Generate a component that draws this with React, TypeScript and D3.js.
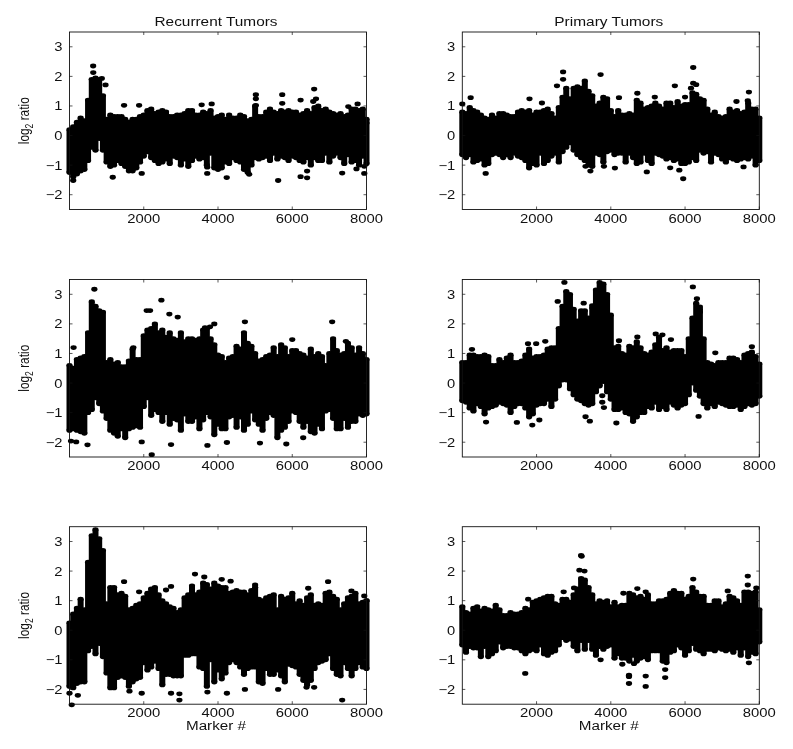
import React from "react";
import * as d3 from "d3";

const markerBins = d3.range(0, 8001, 100);
const xTickValues = [2000, 4000, 6000, 8000];
const yTickValues = [-2, -1, 0, 1, 2, 3];
const columnTitles = ["Recurrent Tumors", "Primary Tumors"];
const xAxisLabel = "Marker #";

type Pt = [number, number];

const r1Upper = [0.2,0.3,0.45,0.6,0.5,1.2,1.9,1.95,1.9,1.35,0.55,0.7,0.65,0.65,0.65,0.55,0.45,0.55,0.55,0.65,0.7,0.85,0.9,0.75,0.8,0.85,0.8,0.65,0.65,0.7,0.7,0.75,0.85,0.85,0.7,0.7,0.8,0.75,0.85,0.6,0.65,0.7,0.55,0.7,0.6,0.6,0.7,0.65,0.5,0.55,1.0,0.65,0.65,0.8,0.9,0.8,0.75,0.85,0.8,0.85,0.8,0.8,0.7,0.75,0.85,0.75,0.95,1.0,0.85,0.9,0.8,0.75,0.7,0.75,0.65,0.7,0.9,0.9,0.85,0.9,0.55];
const r1Lower = [-1.25,-1.4,-1.3,-1.2,-1.15,-0.85,-0.4,-0.5,-0.1,-0.5,-0.9,-1.05,-1.0,-0.85,-0.95,-1.05,-1.2,-1.2,-1.1,-0.9,-0.7,-0.55,-0.75,-0.85,-0.95,-0.9,-0.8,-0.95,-0.7,-0.75,-1.0,-0.8,-1.05,-0.85,-0.7,-0.8,-0.75,-1.0,-0.6,-1.1,-1.15,-1.1,-0.9,-0.95,-0.75,-0.85,-0.9,-1.15,-1.25,-1.0,-0.75,-0.8,-0.75,-0.7,-0.85,-0.6,-0.8,-0.7,-0.75,-0.85,-0.7,-0.75,-0.85,-0.9,-0.75,-1.0,-0.75,-0.85,-0.85,-0.6,-0.9,-0.7,-0.6,-0.75,-0.95,-0.65,-0.9,-0.85,-1.0,-0.7,-0.95];
const r1Points: Pt[] = [[637,2.35],[640,2.13],[870,1.93],[970,1.71],[1470,1.02],[1875,1.02],[1165,-1.41],[1945,-1.28],[3710,-1.28],[3710,-1.07],[3560,1.04],[3830,1.07],[4235,-1.42],[5020,1.38],[5020,1.24],[5020,1.02],[5730,1.38],[5730,1.09],[5620,-1.52],[6225,1.2],[6590,1.57],[6640,1.24],[6565,1.15],[6225,-1.39],[6400,-1.2],[6400,-1.43],[7345,-1.27],[7760,1.07],[7510,0.98],[7940,-1.28],[7940,-1.04],[8000,0.42],[7730,-1.13],[100,-1.52],[4840,-1.31]];

const p1Upper = [0.8,0.75,0.95,0.85,0.8,0.7,0.6,0.55,0.7,0.6,0.75,0.75,0.7,0.65,0.65,0.8,0.85,0.8,0.85,0.7,0.8,0.8,0.85,0.9,0.75,0.6,0.95,1.3,1.6,1.25,1.6,1.65,1.6,1.85,1.5,1.35,1.0,1.1,1.3,1.25,0.85,0.65,0.85,0.7,0.7,0.75,0.7,1.2,1.1,0.9,0.95,1.0,1.1,1.0,0.9,1.1,1.1,0.95,1.15,1.0,1.05,1.05,1.45,1.4,1.25,1.2,0.9,0.7,0.8,0.65,0.6,0.65,0.9,0.8,0.85,0.75,0.8,1.1,0.9,0.9,0.6];
const p1Lower = [-0.65,-0.75,-0.65,-0.9,-0.85,-0.8,-1.0,-0.95,-0.65,-0.6,-0.65,-0.75,-0.65,-0.75,-0.6,-0.7,-0.75,-0.85,-1.1,-0.95,-1.0,-0.6,-0.95,-0.85,-0.7,-0.6,-0.9,-0.55,-0.4,-0.25,-0.5,-0.65,-0.75,-0.85,-1.0,-1.05,-0.6,-0.65,-0.9,-0.55,-0.5,-0.65,-0.6,-0.6,-0.9,-0.6,-0.75,-0.95,-0.9,-0.6,-0.85,-0.95,-0.6,-0.65,-0.7,-0.8,-0.75,-0.85,-0.8,-0.95,-0.95,-0.9,-0.75,-0.85,-0.5,-0.6,-0.55,-0.9,-0.6,-0.65,-0.8,-0.9,-0.75,-0.8,-0.85,-0.8,-0.75,-0.8,-0.7,-1.0,-0.85];
const p1Points: Pt[] = [[0,1.07],[225,1.28],[630,-1.28],[1810,1.24],[2145,1.1],[2715,2.15],[2715,1.9],[3725,2.06],[6220,2.3],[6220,1.77],[6300,1.72],[5725,1.68],[4715,1.43],[7720,1.47],[7385,1.15],[7690,1.18],[4970,-1.23],[5950,-1.46],[5845,-1.17],[5600,-1.09],[7575,-1.06],[4110,-1.1],[3815,-1.04],[3450,-1.2],[3320,-1.04],[4220,1.28],[5185,1.3],[6000,1.3],[6160,1.6],[2550,1.68]];

const r2Upper = [0.6,0.5,0.8,0.85,0.9,1.7,2.75,2.6,2.45,2.4,0.7,0.8,0.65,0.7,0.55,0.55,0.75,1.15,0.8,0.8,1.6,1.8,1.85,2.0,1.7,1.8,1.55,1.7,1.5,1.45,1.7,1.4,1.5,1.5,1.45,1.5,1.8,1.85,1.5,1.3,0.95,0.9,0.7,0.85,0.9,1.25,1.15,1.7,1.35,1.25,1.0,0.75,0.8,0.9,0.95,1.2,0.9,1.3,1.2,0.9,1.1,1.1,1.0,0.95,0.85,1.15,0.9,1.0,0.9,0.6,1.0,1.5,1.1,0.95,1.0,1.35,1.2,0.95,1.2,1.0,0.8];
const r2Lower = [-1.6,-1.55,-1.6,-1.65,-1.7,-1.0,-0.9,-0.5,-0.7,-0.95,-1.2,-1.6,-1.7,-1.8,-1.55,-1.85,-1.55,-1.5,-1.45,-1.5,-0.8,-0.5,-1.1,-0.9,-1.0,-1.3,-1.0,-1.4,-1.2,-1.25,-1.6,-1.05,-1.3,-1.3,-1.15,-1.55,-1.25,-1.0,-1.15,-1.75,-1.4,-1.55,-1.55,-1.15,-1.1,-1.5,-1.15,-1.6,-1.4,-0.95,-1.25,-1.4,-1.6,-1.2,-1.0,-1.1,-1.85,-1.6,-1.5,-1.3,-0.95,-1.0,-1.3,-1.5,-1.3,-1.65,-1.7,-1.4,-1.55,-0.95,-0.9,-1.2,-1.55,-1.55,-1.2,-1.5,-1.3,-1.3,-1.05,-1.1,-1.05];
const r2Points: Pt[] = [[670,3.17],[40,-1.96],[180,-1.99],[485,-2.09],[110,1.2],[1945,-1.99],[2215,-2.42],[2475,2.8],[2690,2.33],[2915,2.23],[2735,-2.08],[3715,-2.11],[4240,-2.01],[5130,-2.03],[5840,-2.06],[6295,-1.85],[4725,2.07],[7075,2.07],[2080,2.45],[2170,2.45],[3900,2.0],[3785,1.9],[3650,1.87],[1720,1.2],[6000,1.47],[7445,1.41]];

const p2Upper = [0.7,0.7,0.95,0.95,0.9,0.9,0.95,0.9,0.6,0.6,0.8,0.7,0.85,0.95,0.7,0.7,0.75,0.95,1.15,0.85,0.9,0.9,0.95,1.15,1.2,1.2,1.85,2.6,3.1,3.0,2.5,2.1,2.45,2.45,2.2,2.55,3.15,3.4,3.35,3.0,2.3,1.2,1.25,1.0,0.95,1.25,1.2,1.4,1.2,1.0,0.95,1.05,1.3,1.55,1.1,1.2,1.05,1.1,1.1,1.1,0.9,1.5,2.2,2.7,2.5,1.5,0.7,0.65,0.6,0.7,0.7,0.7,0.85,0.85,0.8,0.7,0.95,1.0,1.05,0.9,0.65];
const p2Lower = [-0.6,-0.65,-0.85,-0.95,-0.7,-0.8,-1.05,-0.85,-0.8,-0.75,-0.65,-0.7,-0.75,-1.0,-0.8,-0.7,-0.7,-0.85,-1.15,-1.05,-0.75,-0.7,-0.7,-0.55,-0.8,-0.55,-0.1,0.1,0.1,-0.2,-0.4,-0.55,-0.6,-0.7,-0.75,-0.7,-0.3,-0.1,0.05,-0.3,-0.55,-0.9,-0.9,-0.85,-1.0,-1.05,-1.3,-1.15,-1.0,-1.0,-0.8,-0.85,-0.65,-0.9,-0.8,-0.9,-0.65,-0.75,-0.85,-0.75,-0.7,-0.4,0.0,-0.25,-0.45,-0.7,-0.85,-0.7,-0.8,-0.65,-0.7,-0.75,-0.8,-0.8,-0.75,-0.9,-0.8,-0.7,-0.75,-0.7,-0.45];
const p2Points: Pt[] = [[2750,3.4],[6210,3.25],[6320,2.85],[260,1.14],[640,-1.32],[1470,-1.33],[1885,-1.42],[2075,-1.25],[1990,1.33],[1770,1.33],[2235,1.41],[3320,-1.14],[3435,-1.29],[4150,-1.35],[6365,-1.13],[6815,1.02],[7800,1.23],[4715,1.56],[5210,1.66],[5390,1.63],[5620,1.47],[4220,1.43],[3770,-0.65],[3770,-0.43],[3815,-0.83],[6400,2.4],[6400,2.57],[3270,2.7],[3500,2.62],[2570,2.76]];

const r3Upper = [0.25,0.55,0.75,1.05,0.7,2.3,3.2,3.4,3.1,2.7,0.9,1.45,1.45,1.2,1.25,1.15,0.7,0.75,0.85,0.9,1.1,1.25,1.4,1.45,1.2,1.0,0.9,0.8,0.75,0.6,0.7,1.1,1.2,1.5,1.2,1.3,1.6,1.55,1.4,1.6,1.5,1.45,1.45,1.25,1.3,1.35,1.3,1.3,1.2,1.35,1.45,1.05,1.0,1.1,1.15,1.2,0.7,1.15,1.05,1.1,1.25,0.9,1.0,0.85,1.1,1.2,0.85,0.9,0.85,1.25,1.3,1.15,1.05,0.7,0.9,1.1,1.15,1.25,0.9,0.95,1.0];
const r3Lower = [-1.9,-1.95,-1.8,-1.75,-1.75,-0.7,-0.55,-0.8,-0.45,-0.9,-1.45,-1.95,-1.95,-1.6,-1.55,-1.6,-1.9,-1.75,-1.65,-1.6,-1.1,-1.35,-1.25,-1.05,-1.3,-1.85,-1.5,-1.5,-1.55,-1.55,-1.55,-0.85,-0.85,-0.8,-0.8,-1.25,-1.3,-1.9,-1.0,-1.75,-1.35,-1.65,-1.45,-1.1,-1.0,-1.1,-1.25,-1.5,-1.3,-1.25,-1.25,-1.75,-1.8,-1.3,-1.5,-1.5,-1.35,-1.55,-1.75,-1.15,-1.2,-1.25,-1.5,-1.7,-1.85,-1.7,-1.3,-1.1,-1.05,-1.0,-0.8,-1.3,-1.5,-1.55,-1.1,-1.3,-1.55,-1.3,-1.1,-1.25,-1.3];
const r3Points: Pt[] = [[60,-2.52],[0,-2.13],[225,-2.2],[1615,-2.06],[1945,-2.13],[2735,-2.13],[2960,-2.15],[2960,-2.36],[3715,-2.09],[4240,-2.13],[4725,-2.0],[5620,-2.0],[6385,-1.93],[6590,-1.93],[7345,-2.36],[3380,1.9],[3630,1.8],[6965,1.64],[1470,1.64],[2735,1.48],[2600,1.36],[1875,1.3],[4100,1.72],[4340,1.66],[6430,1.42],[7595,1.33],[7940,1.16],[8000,1.0],[5000,1.53]];

const p3Upper = [0.8,0.6,0.55,0.75,0.8,0.65,0.75,0.7,0.65,0.85,0.7,0.5,0.5,0.6,0.55,0.55,0.6,0.75,0.7,0.95,1.0,1.05,1.1,1.15,1.15,0.9,0.85,1.05,1.05,0.95,1.2,1.4,1.75,1.7,1.45,1.2,0.9,1.0,0.95,1.0,0.8,0.95,0.8,0.85,0.85,1.25,1.2,1.1,1.15,1.05,1.2,0.9,0.9,1.0,1.0,1.05,1.25,1.35,1.25,1.25,1.05,1.15,1.45,1.3,1.15,1.15,0.85,0.85,1.0,1.0,0.8,0.9,1.15,1.1,1.0,0.85,1.3,1.3,1.25,1.3,0.7];
const p3Lower = [-0.5,-0.75,-0.55,-0.6,-0.6,-0.9,-0.55,-0.9,-0.8,-0.7,-0.4,-0.6,-0.55,-0.55,-0.6,-0.6,-0.7,-0.8,-0.7,-0.65,-0.7,-0.5,-0.8,-0.85,-0.75,-0.7,-0.5,-0.25,-0.35,-0.3,-0.55,-0.7,-0.35,-0.65,-0.35,-0.65,-0.85,-0.55,-0.65,-0.55,-0.5,-0.95,-0.8,-0.95,-0.95,-1.05,-0.85,-1.05,-0.95,-0.9,-1.0,-0.7,-0.7,-0.7,-1.05,-1.1,-0.75,-0.7,-0.5,-0.6,-0.85,-0.7,-0.45,-0.65,-0.7,-0.8,-0.65,-0.65,-0.7,-0.6,-0.65,-0.7,-0.65,-0.75,-0.6,-0.85,-0.6,-0.9,-0.75,-0.8,-0.4];
const p3Points: Pt[] = [[3200,2.53],[3215,2.5],[1695,-1.46],[3155,2.03],[3290,2.0],[4490,-1.52],[4490,-1.57],[4490,-1.8],[4940,-1.55],[4940,-1.9],[5465,-1.33],[5465,-1.6],[6220,1.73],[7690,1.83],[7690,1.53],[7720,-1.1],[4310,-1.15],[4715,1.41],[4940,1.3],[4340,1.25],[7150,1.33],[2730,1.3],[3010,1.43],[7920,1.43],[1775,1.05],[3725,-1.0],[4625,-1.13]];

const panelLeft = [69.5, 462.3];
const panelWidth = 297;
const panelTop = [32, 279.5, 526.7];
const panelHeight = 177.5;

const panels = [
  { col: 0, row: 0, upper: r1Upper, lower: r1Lower, points: r1Points },
  { col: 1, row: 0, upper: p1Upper, lower: p1Lower, points: p1Points },
  { col: 0, row: 1, upper: r2Upper, lower: r2Lower, points: r2Points },
  { col: 1, row: 1, upper: p2Upper, lower: p2Lower, points: p2Points },
  { col: 0, row: 2, upper: r3Upper, lower: r3Lower, points: r3Points },
  { col: 1, row: 2, upper: p3Upper, lower: p3Lower, points: p3Points },
];

const FONT = "'Liberation Sans', Arial, sans-serif";
const INK = "#111";

function Panel({ col, row, upper, lower, points }: (typeof panels)[number]) {
  const left = panelLeft[col];
  const top = panelTop[row];
  const x = d3.scaleLinear().domain([0, 8000]).range([left, left + panelWidth]);
  const y = d3.scaleLinear().domain([-2.5, 3.5]).range([top + panelHeight, top]);
  const right = left + panelWidth;
  const bottom = top + panelHeight;
  const midY = (top + bottom) / 2;
  return (
    <g>
      <g stroke="#000" strokeWidth={6}>
        {markerBins.map((m, i) => (
          <line key={m} x1={x(m)} x2={x(m)} y1={y(upper[i])} y2={y(lower[i])} />
        ))}
      </g>
      <g fill="#000">
        {markerBins.map((m, i) => (
          <g key={m}>
            <ellipse cx={x(m)} cy={y(upper[i])} rx={3.1} ry={2.4} />
            <ellipse cx={x(m)} cy={y(lower[i])} rx={3.1} ry={2.4} />
          </g>
        ))}
        {points.map((p, i) => (
          <ellipse key={i} cx={x(p[0])} cy={y(p[1])} rx={3.1} ry={2.4} />
        ))}
      </g>
      <rect x={left} y={top} width={panelWidth} height={panelHeight} fill="none" stroke={INK} strokeWidth={0.9} />
      <g stroke={INK} strokeWidth={0.7}>
        {xTickValues.map((t) => (
          <g key={t}>
            <line x1={x(t)} x2={x(t)} y1={bottom} y2={bottom - 3} />
            <line x1={x(t)} x2={x(t)} y1={top} y2={top + 3} />
          </g>
        ))}
        {yTickValues.map((t) => (
          <g key={t}>
            <line x1={left} x2={left + 3} y1={y(t)} y2={y(t)} />
            <line x1={right} x2={right - 3} y1={y(t)} y2={y(t)} />
          </g>
        ))}
      </g>
      <g fontFamily={FONT} fontSize={12.5} fill={INK}>
        {xTickValues.map((t) => (
          <text key={t} x={x(t)} y={bottom + 13} textAnchor="middle" textLength={33} lengthAdjust="spacingAndGlyphs">
            {t}
          </text>
        ))}
        {yTickValues.map((t) => (
          <text
            key={t}
            transform={`translate(${left - 7},${y(t) + 4.5}) scale(1.18,1)`}
            textAnchor="end"
          >
            {t < 0 ? `\u2212${-t}` : t}
          </text>
        ))}
      </g>
      {row === 0 && (
        <text
          x={left + panelWidth / 2 - 2}
          y={25.5}
          textAnchor="middle"
          fontFamily={FONT}
          fontSize={12.5}
          fill={INK}
          textLength={col === 0 ? 123 : 109}
          lengthAdjust="spacingAndGlyphs"
        >
          {columnTitles[col]}
        </text>
      )}
      {row === 2 && (
        <text
          x={left + panelWidth / 2 - 2}
          y={730}
          textAnchor="middle"
          fontFamily={FONT}
          fontSize={12.5}
          fill={INK}
          textLength={60}
          lengthAdjust="spacingAndGlyphs"
        >
          {xAxisLabel}
        </text>
      )}
      {col === 0 && (
        <text
          transform={`translate(28.5,${midY}) rotate(-90) scale(0.85,1)`}
          textAnchor="middle"
          fontFamily={FONT}
          fontSize={14}
          fill={INK}
        >
          log
          <tspan fontSize={10} dy={4}>2</tspan>
          <tspan dy={-4}> ratio</tspan>
        </text>
      )}
    </g>
  );
}

export default function App() {
  return (
    <svg
      width={793}
      height={749}
      viewBox="0 0 793 749"
      style={{ position: "absolute", left: 0, top: 0, display: "block", background: "#fff", filter: "blur(0.3px)" }}
    >
      {panels.map((p) => (
        <Panel key={`${p.col}-${p.row}`} {...p} />
      ))}
    </svg>
  );
}
